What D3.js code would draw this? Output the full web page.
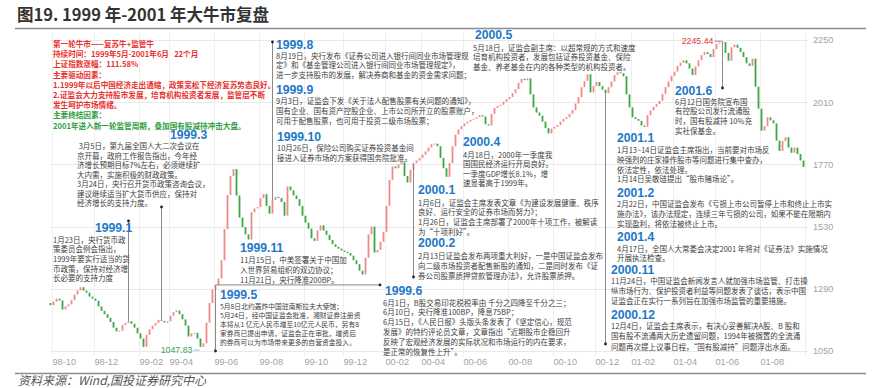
<!DOCTYPE html>
<html><head><meta charset="utf-8">
<script src="https://cdn.jsdelivr.net/npm/d3@7"></script>
<style>body{margin:0;background:#fff}svg{display:block}</style>
</head><body><svg id="c" width="873" height="388"></svg>
<script>
// ---------- DATA ----------
const closes = [
1227,1240,1252,1245,1210,1222,1230,1246,1268,1284,
1296,1283,1275,1260,1252,1244,1222,1205,1192,1178,
1162,1140,1126,1128,1150,1158,1165,1155,1140,1118,
1098,1066,1112,1134,1148,1158,1170,1166,1160,1165,
1186,1200,1206,1192,1172,1148,1106,1118,1120,1098,
1066,1080,1160,1235,1288,1305,1330,1400,1520,1652,
1725,1752,1650,1565,1528,1500,1480,1585,1600,1605,
1640,1655,1610,1580,1632,1645,1640,1625,1572,1685,
1670,1650,1636,1610,1572,1545,1522,1485,1475,1515,
1535,1515,1498,1478,1462,1452,1445,1438,1433,1428,
1418,1400,1385,1360,1345,1410,1500,1530,1430,1440,
1472,1510,1610,1710,1762,1755,1770,1778,1725,1700,
1750,1775,1785,1795,1808,1820,1835,1848,1850,1840,
1795,1755,1722,1775,1840,1885,1905,1918,1928,1935,
1942,1946,1952,1960,1955,1925,1920,1965,1988,1995,
2000,2012,2022,2030,2045,2060,2085,2100,2095,2102,
2040,1990,1970,1958,1935,1910,1890,1908,1915,1922,
1935,1945,1952,1965,1980,2005,2030,2068,2092,2118,
2048,2072,2088,2072,2058,2045,2068,2090,2115,2126,
2122,2110,2040,1990,1952,1945,1938,1920,1915,1960,
1978,1992,2003,2015,2042,2068,2090,2112,2128,2150,
2162,2172,2160,2140,2115,2148,2172,2192,2203,2196,
2184,2215,2235,2240,2242,2200,2170,2222,2232,2220,
2204,2184,2160,2150,2178,2070,1985,1900,1918,1952,
1940,1928,1862,1822,1860,1875,1835,1815,1835,1810,
1785,1760];
const firstOpen = 1235;
const tickLabels = ['98-10','98-12','99-02','99-04','99-06','99-08','99-10','99-12','00-02','00-04','00-06','00-08','00-10','00-12','01-02','01-04','01-06','01-08'];
const tickBars = [1,15,30,40,55,70,85,98,112,124,138,153,168,182,194,208,222,237];
const yTicks = [1050,1290,1530,1770,2010,2250];
const peakValue = 2245.44, peakBar = 224;
const troughValue = 1047.83, troughBar = 50;

const titleText = '图19. 1999 年-2001 年大牛市复盘';
const sourceText = '资料来源：Wind,国投证券研究中心';
const summaryRed = ['第一轮牛市——复苏牛+监管牛','持续时间：1999年5月-2001年6月   22个月','上证指数涨幅：111.58%','主要驱动因素：','1.1999年以后中国经济走出通缩，政策宽松下经济复苏势态良好。','2.证监会大力支持股市发展，培育机构投资者发展，监管层不断','发生呵护市场情绪。'];
const summaryGreen = ['主要终结因素：','2001年进入新一轮监管周期，叠加国有股减持冲击大盘。'];

const notes = [
 {t:'1999.1', l:['1月23日，央行货币政','策委员会例会指出，','1999年要实行适当的货','币政策，保持对经济增','长必要的支持力度']},
 {t:'1999.3', l:[' 3月5日，第九届全国人大二次会议在','京开幕，政府工作报告指出，今年经','济增长预期目标7%左右，必须继续扩','大内需，实施积极的财政政策。','3月24日，央行召开货币政策咨询会议，','建议继续适当扩大货币供应，保持对','经济增长的支持力度。']},
 {t:'1999.11', l:['11月15日，中美签署关于中国加','入世界贸易组织的双边协议；','11月21日，央行降准200BP。']},
 {t:'1999.5', l:['5月8日北约轰炸中国驻南斯拉夫大使馆；','5月24日，经中国证监会批准，湘财证券注册资','本将从1 亿元人民币增至10亿元人民币，另有8','家券商已提出申请，证监会正在审批，增资后','的券商可以为市场带来更多的自营资金投入。']},
 {t:'1999.6', l:['6月1日，B股交易印花税税率由 千分之四降至千分之三；','6月10日，央行降准100BP，降息75BP；','6月15日，《人民日报》头版头条发表了《坚定信心，规范','发展》的特约评论员文章，文章指出“近期股市企稳回升','反映了宏观经济发展的实际状况和市场运行的内在要求，','是正常的恢复性上升”。']},
 {t:'1999.8', l:['8月19日，央行发布《证券公司进入银行间同业市场管理规','定》和《基金管理公司进入银行间同业市场管理规定》，','进一步支持股市的发展，解决券商和基金的资金需求问题；']},
 {t:'1999.9', l:['9月3日，证监会下发《关于法人配售股票有关问题的通知》，','国有企业、国有资产控股企业、上市公司所开立的股票账户，','可用于配售股票，也可用于投资二级市场股票；']},
 {t:'1999.10', l:['10月26日，保险公司购买证券投资基金间','接进入证券市场的方案获得国务院批准。']},
 {t:'2000.5', l:['5月18日，证监会副主席：以超常规的方式和速度','培育机构投资者，发展包括证券投资基金、保险','基金、养老基金在内的各种类型的机构投资者。']},
 {t:'2000.4', l:['4月18日，2000年一季度我','国国民经济运行开局良好。','一季度GDP增长8.1%，增','速显著高于1999年。']},
 {t:'2000.1', l:['1月6日，证监会主席发表文章《为建设发展健康、秩序','良好、运行安全的证券市场而努力》；','1月26日，证监会主席部署了2000年十项工作，被解读','为“十项利好”。']},
 {t:'2000.2', l:['2月13日证监会发布两项重大利好，一是中国证监会发布','向二级市场投资者配售新股的通知，二是同时发布《证','券公司股票质押贷款管理办法》，允许股票质押。']},
 {t:'2001.6', l:['6月12日国务院宣布国','有控股公司发行流通股','时，国有股减持 10%充','实社保基金。']},
 {t:'2001.1', l:['1月13~14日证监会主席指出，当前要对市场反','映强烈的庄家操作股市等问题进行集中查办，','依法定性，依法处理。','1月14日吴敬琏提出“股市赌场论”。']},
 {t:'2001.2', l:['2月22日，中国证监会发布《亏损上市公司暂停上市和终止上市实','施办法》，该办法规定，连续三年亏损的公司，如果不能在限期内','实现盈利，将依法被终止上市。']},
 {t:'2001.4', l:['4月17日，全国人大常委会决定2001 年将对《证券法》实施情况','开展执法检查。']},
 {t:'2000.11', l:['11月24日，中国证监会新闻发言人就加强市场监管、打击操','纵市场行为、保护投资者利益等问题发表了谈话，表示中国','证监会正在实行一系列旨在加强市场监管的重要措施。']},
 {t:'2000.12', l:['12月4日，证监会主席表示，有决心妥善解决A股、B 股和','国有股不流通两大历史遗留问题，1994年被搁置的全流通','问题再次提上议事日程，“国有股减持”问题浮出水面。']}
];

// ---------- LAYOUT ----------
const noteLayout = {
 '1999.1': {hx:95, hy:228, x:53, y:242.5, lh:9.7},
 '1999.3': {hx:170, hy:135, x:77, y:149, lh:9.5},
 '1999.11':{hx:240, hy:248, x:240, y:262.5, lh:10.3},
 '1999.5': {hx:220, hy:295, x:220, y:308.5, lh:9.2, fs:6.8},
 '1999.6': {hx:385, hy:291, x:383, y:305.5, lh:9.8},
 '1999.8': {hx:276, hy:45, x:276, y:58.5, lh:9.7},
 '1999.9': {hx:276, hy:90, x:276, y:103.5, lh:10},
 '1999.10':{hx:277, hy:137, x:277, y:150.5, lh:10},
 '2000.5': {hx:475, hy:35, x:473, y:50.5, lh:9.5},
 '2000.4': {hx:463, hy:142, x:463, y:157.5, lh:9.5},
 '2000.1': {hx:418, hy:190, x:418, y:205.5, lh:9.7},
 '2000.2': {hx:418, hy:243, x:418, y:258.5, lh:10},
 '2001.6': {hx:675, hy:91, x:675, y:104.5, lh:9.8},
 '2001.1': {hx:617, hy:138, x:617, y:153, lh:9.8},
 '2001.2': {hx:617, hy:193, x:617, y:206.5, lh:10},
 '2001.4': {hx:617, hy:237, x:617, y:251.5, lh:9.5},
 '2000.11':{hx:611, hy:270, x:611, y:283.5, lh:10},
 '2000.12':{hx:611, hy:315, x:611, y:328.5, lh:10.5}
};

const svg = d3.select('#c');
const CJK = '"Noto Sans CJK SC","Noto Sans",sans-serif';
const n = closes.length;
const x = d3.scaleLinear().domain([0, n]).range([49, 805]);
const step = x(1) - x(0);
const y = d3.scaleLinear().domain([1050, 2250]).range([351, 40]);
const opens = closes.map((c,i)=> i===0 ? firstOpen : closes[i-1]);

// title & frame lines
svg.append('text').attr('x',17).attr('y',21).attr('font-family',CJK).attr('font-weight','bold')
  .attr('font-size',16.5).attr('fill','#333').text(titleText);
svg.append('line').attr('x1',15).attr('x2',866).attr('y1',28.5).attr('y2',28.5).attr('stroke','#8c8c8c').attr('stroke-width',1.5);
svg.append('line').attr('x1',15).attr('x2',866).attr('y1',373.5).attr('y2',373.5).attr('stroke','#8c8c8c').attr('stroke-width',1.5);
svg.append('text').attr('x',18).attr('y',385).attr('font-family',CJK).attr('font-style','italic')
  .attr('font-size',12).attr('fill','#555').text(sourceText);

// grid
const grid = svg.append('g');
grid.selectAll('line.h').data(yTicks).join('line').attr('class','h')
  .attr('x1',50).attr('x2',808).attr('y1',d=>Math.round(y(d))+0.5).attr('y2',d=>Math.round(y(d))+0.5)
  .attr('stroke','#e9e9e9').attr('stroke-width',1);
grid.selectAll('line.v').data(tickBars.concat([n])).join('line').attr('class','v')
  .attr('x1',d=>Math.round(x(d))+0.5).attr('x2',d=>Math.round(x(d))+0.5).attr('y1',32).attr('y2',356)
  .attr('stroke','#efefef').attr('stroke-width',1);

// axes
const xAxis = d3.axisBottom(x).tickValues(tickBars).tickFormat((d,i)=>tickLabels[i]).tickSize(0).tickPadding(0);
const gx = svg.append('g').attr('transform','translate(0,359)').call(xAxis);
gx.select('.domain').remove();
gx.selectAll('text').attr('text-anchor','start').attr('dy','0.7em').attr('font-family','"Liberation Sans",Arial,sans-serif')
  .attr('font-size',9.2).attr('fill','#a3a3a3');
const yAxis = d3.axisRight(y).tickValues(yTicks).tickSize(0).tickPadding(0).tickFormat(d3.format('d'));
const gy = svg.append('g').attr('transform','translate(813,0)').call(yAxis);
gy.select('.domain').remove();
gy.selectAll('text').attr('font-family','"Liberation Sans",Arial,sans-serif').attr('font-size',9.2).attr('fill','#a3a3a3');

// candles
const up = '#f08a8a', down = '#3aa646';
svg.append('g').selectAll('rect').data(closes).join('rect')
  .attr('x',(d,i)=>x(i)+0.6).attr('width',step-1.2)
  .attr('y',(d,i)=>y(Math.max(d,opens[i])))
  .attr('height',(d,i)=>Math.max(1, Math.abs(y(d)-y(opens[i]))))
  .attr('fill',(d,i)=> d>=opens[i] ? up : down);

// connectors
const cx = i => x(i) + step/2;
const conn = svg.append('g').attr('stroke','#8a8a8a').attr('stroke-width',1);
const dots = [];
function vline(bar, yTo, dotEnd){
  const y0 = y(closes[bar]);
  conn.append('line').attr('x1',cx(bar)).attr('x2',cx(bar)).attr('y1',y0).attr('y2',yTo);
  if(dotEnd) dots.push([cx(bar), yTo]);
}
vline(26, 221, true);
vline(37, 207, true);
vline(74, 42, true);
vline(55, 351, true);
conn.append('line').attr('x1',cx(55)).attr('x2',380).attr('y1',y(closes[55])).attr('y2',y(closes[55]));
dots.push([380, y(closes[55])]);
vline(121, 277, true);
vline(185, 344, true);
conn.append('line').attr('x1',cx(peakBar)).attr('x2',cx(peakBar)).attr('y1',y(peakValue)).attr('y2',88);
dots.push([cx(peakBar), 88]);
svg.append('g').selectAll('circle').data(dots).join('circle')
  .attr('cx',d=>d[0]).attr('cy',d=>d[1]).attr('r',1.4).attr('fill','#222');

// peak / trough labels
svg.append('text').attr('x',cx(peakBar)-9).attr('y',y(peakValue)+3.2).attr('text-anchor','end')
  .attr('font-family','"Liberation Sans",Arial,sans-serif').attr('font-size',8.8).attr('fill','#e0403a').text(peakValue.toFixed(2));
conn.append('line').attr('x1',cx(peakBar)-8).attr('x2',cx(peakBar)-1).attr('y1',y(peakValue)).attr('y2',y(peakValue));
svg.append('text').attr('x',cx(troughBar)-8).attr('y',y(troughValue)+1.5).attr('text-anchor','end')
  .attr('font-family','"Liberation Sans",Arial,sans-serif').attr('font-size',8.8).attr('fill','#3aa646').text(troughValue.toFixed(2));
svg.append('line').attr('x1',cx(troughBar)-7).attr('x2',cx(troughBar)-1).attr('y1',y(troughValue)-1.5).attr('y2',y(troughValue)-1.5)
  .attr('stroke','#7fbfdf').attr('stroke-width',1);

// summary block
const sb = svg.append('g').attr('font-family',CJK).attr('font-weight','bold').attr('font-size',7.6);
summaryRed.forEach((s,i)=> sb.append('text').attr('x',53).attr('y',47+i*10.2).attr('fill','#e8302e').attr('xml:space','preserve').text(s));
summaryGreen.forEach((s,i)=> sb.append('text').attr('x',53).attr('y',47+(summaryRed.length+i)*10.2).attr('fill','#2f9e3f').text(s));

// notes
const ng = svg.append('g');
notes.forEach(nt=>{
  const L = noteLayout[nt.t];
  ng.append('text').attr('x',L.hx).attr('y',L.hy+4.3).attr('font-family','"Liberation Sans Narrow","Liberation Sans",Arial,sans-serif')
    .attr('font-weight','bold').attr('font-size',12.2).attr('fill','#1e78c8').text(nt.t);
  nt.l.forEach((s,i)=> ng.append('text').attr('x',L.x).attr('y',L.y+i*L.lh)
    .attr('font-family',CJK).attr('font-size',L.fs||7.5).attr('fill','#404040').attr('xml:space','preserve').text(s));
});
</script></body></html>
